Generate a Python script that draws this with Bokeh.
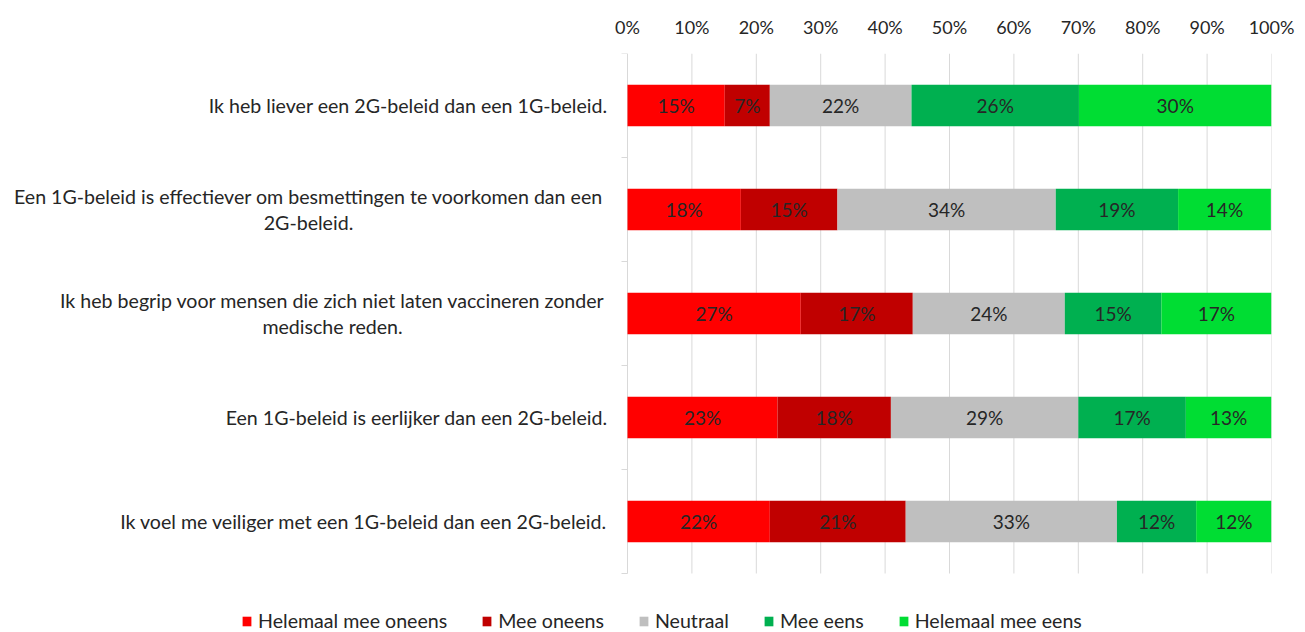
from bokeh.plotting import figure
from bokeh.models import (ColumnDataSource, Range1d, FixedTicker, NumeralTickFormatter,
                          Legend, LegendItem)
from bokeh.core.properties import value
from bokeh.embed import file_html
from bokeh.resources import INLINE

# ---------------- data ----------------
statements = [
    "Ik heb liever een 2G-beleid dan een 1G-beleid.",
    "Een 1G-beleid is effectiever om besmettingen te voorkomen dan een\n2G-beleid.",
    "Ik heb begrip voor mensen die zich niet laten vaccineren zonder\nmedische reden.",
    "Een 1G-beleid is eerlijker dan een 2G-beleid.",
    "Ik voel me veiliger met een 1G-beleid dan een 2G-beleid.",
]
series_names = ["Helemaal mee oneens", "Mee oneens", "Neutraal", "Mee eens", "Helemaal mee eens"]
helemaal_mee_oneens = [15.1, 17.6, 26.9, 23.3, 22.1]
mee_oneens = [7.0, 15.0, 17.4, 17.6, 21.1]
neutraal = [22.0, 33.9, 23.6, 29.1, 32.8]
mee_eens = [26.0, 19.0, 15.0, 16.7, 12.3]
helemaal_mee_eens = [29.9, 14.4, 17.1, 13.3, 11.7]
x_ticks = [0, 10, 20, 30, 40, 50, 60, 70, 80, 90, 100]

# ---------------- style ----------------
colors = ["#FF0000", "#C00000", "#BFBFBF", "#00B050", "#00DD33"]
FONT = "Lato"
TXT = "#262626"
GRID = "#D9D9D9"

series = [helemaal_mee_oneens, mee_oneens, neutraal, mee_eens, helemaal_mee_eens]
keys = ["s0", "s1", "s2", "s3", "s4"]
n = len(statements)
ypos = [i + 0.5 for i in range(n)]

data = {"y": ypos}
for k, s in zip(keys, series):
    data[k] = [v / 100.0 for v in s]
source = ColumnDataSource(data)

# ---------------- geometry (page pixels) ----------------
W, H = 1305, 632
zero_px, full_px = 627, 1271          # 0 % and 100 %
top_px, cats_bottom_px = 53, 573      # plot-area top / bottom of last category band
px_per_x = full_px - zero_px
px_per_cat = (cats_bottom_px - top_px) / n
x_start = -zero_px / px_per_x
y_end_bottom = n + (H - cats_bottom_px) / px_per_cat

p = figure(width=W, height=H, output_backend="svg", toolbar_location=None,
           x_axis_location="above", y_axis_location=None,
           x_range=Range1d(x_start, 1.0), y_range=Range1d(y_end_bottom, 0),
           min_border_left=0, min_border_right=W - full_px,
           min_border_top=top_px, min_border_bottom=0)
p.outline_line_color = None
p.background_fill_color = "white"
p.border_fill_color = "white"
p.xgrid.visible = False
p.ygrid.visible = False

xt = [t / 100.0 for t in x_ticks]
# vertical gridlines over the category area
p.segment(x0=xt, y0=[0] * len(xt), x1=xt, y1=[n] * len(xt), line_color=GRID, line_width=1)
# category-axis tick marks at band boundaries
bounds = list(range(n + 1))
tick_len = 6 / px_per_x
p.segment(x0=[-tick_len] * len(bounds), y0=bounds, x1=[0] * len(bounds), y1=bounds,
          line_color=GRID, line_width=1)

# bars
renderers = p.hbar_stack(keys, y="y", height=0.4, color=colors, line_color=None, source=source)

# data labels
lx, ly, lt = [], [], []
for i in range(n):
    cum = 0.0
    for s in series:
        v = s[i]
        lx.append((cum + v / 2.0) / 100.0)
        ly.append(ypos[i])
        lt.append(f"{int(v + 0.5)}%")
        cum += v
p.text(x=lx, y=ly, text=lt, text_align="center", text_baseline="middle",
       text_font=value(FONT), text_font_size="19px", text_color=TXT)

# category labels
label_right_px = 607
multi_centre_px = {1: 308, 2: 332}
cx, ct, ca = [], [], []
for i, s in enumerate(statements):
    if "\n" in s:
        cx.append((multi_centre_px[i] - zero_px) / px_per_x)
        ca.append("center")
    else:
        cx.append((label_right_px - zero_px) / px_per_x)
        ca.append("right")
    ct.append(s)
lab_src = ColumnDataSource(dict(x=cx, y=ypos, text=ct, align=ca))
p.text(x="x", y="y", text="text", text_align="align", text_baseline="middle",
       text_font=value(FONT), text_font_size="19.6px", text_color=TXT,
       text_line_height=1.12, source=lab_src)

# x axis (top)
xa = p.xaxis[0]
xa.ticker = FixedTicker(ticks=xt)
xa.formatter = NumeralTickFormatter(format="0%")
xa.axis_line_color = None
xa.major_tick_line_color = None
xa.minor_tick_line_color = None
xa.major_label_standoff = 10
xa.major_label_text_font = FONT
xa.major_label_text_font_size = "18px"
xa.major_label_text_color = TXT

# legend at the bottom
items = [LegendItem(label=nm, renderers=[r]) for nm, r in zip(series_names, renderers)]
legend = Legend(items=items, orientation="horizontal", location=(241, 0),
                spacing=34, glyph_width=11, glyph_height=12, label_standoff=6,
                padding=0, margin=0, border_line_color=None, background_fill_alpha=0,
                label_text_font=FONT, label_text_font_size="19.6px", label_text_color=TXT,
                label_height=18)
p.add_layout(legend)

open("out.html", "w").write(file_html(p, INLINE))
